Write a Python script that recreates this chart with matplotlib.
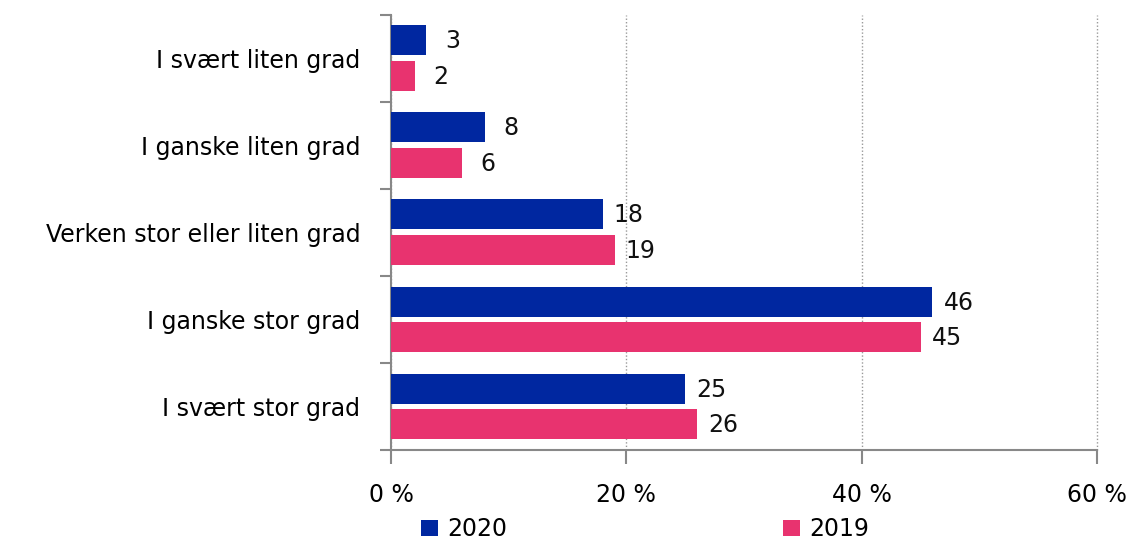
import matplotlib.pyplot as plt
import numpy as np
from matplotlib.ticker import FixedLocator, FuncFormatter

plt.rcParams['font.family'] = ['DejaVu Sans']

# Data
categories = ['I svært liten grad', 'I ganske liten grad', 'Verken stor eller liten grad',
              'I ganske stor grad', 'I svært stor grad']
values_2020 = [3, 8, 18, 46, 25]
values_2019 = [2, 6, 19, 45, 26]
series_labels = ['2020', '2019']
colors = ['#0027A0', '#E8336F']

fig = plt.figure(figsize=(11.3, 5.46), dpi=100)
ax = fig.add_axes([0.346, 0.176, 0.625, 0.797])

y = np.arange(len(categories))
h = 0.345
off = 0.205
for vals, dy, c, lab in zip([values_2020, values_2019], [-off, off], colors, series_labels):
    bars = ax.barh(y + dy, vals, height=h, color=c, label=lab, zorder=3)
    for b, v in zip(bars, vals):
        ax.annotate(str(v), (b.get_width(), b.get_y() + b.get_height() / 2),
                    xytext=(26, -1), textcoords='offset pixels',
                    ha='center', va='center', fontsize=17, color='#111111')

ax.set_xlim(0, 60)
ax.set_ylim(len(categories) - 0.5, -0.5)
ax.set_xticks([0, 20, 40, 60])
ax.xaxis.set_major_formatter(FuncFormatter(lambda v, p: f'{v:.0f} %'))
ax.set_yticks(y)
ax.set_yticklabels(categories, fontsize=17)
ax.yaxis.set_minor_locator(FixedLocator(np.arange(-0.5, len(categories), 1)))

ax.tick_params(axis='y', which='major', length=0, pad=22)
ax.tick_params(axis='y', which='minor', length=8, color='#888888', width=1.5)
ax.tick_params(axis='x', length=10, color='#888888', width=1.5, pad=14, labelsize=17)

ax.grid(axis='x', linestyle=(0, (1, 1.5)), color='#999999', linewidth=1, zorder=0)
for line in ax.get_xgridlines():
    line.set_clip_on(False)
for s in ['top', 'right']:
    ax.spines[s].set_visible(False)
for s in ['left', 'bottom']:
    ax.spines[s].set_color('#888888')
    ax.spines[s].set_linewidth(1.5)

fig.legend(loc='lower left', bbox_to_anchor=(0.354, -0.03), ncol=2, frameon=False,
           fontsize=17, handlelength=0.7, handleheight=0.7,
           handletextpad=0.4, columnspacing=11.7)

fig.savefig('out.png', dpi=100)
